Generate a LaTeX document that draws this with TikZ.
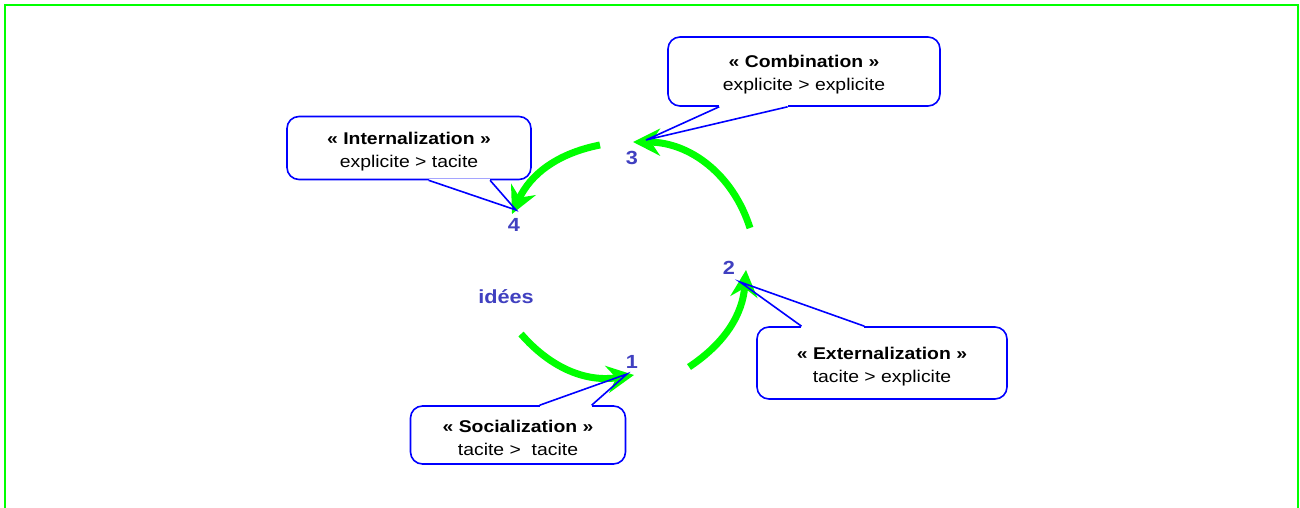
\documentclass[tikz,border=0pt]{standalone}
\usepackage{fontspec}
\setmainfont{Liberation Sans}[FakeStretch=1.14]
\usetikzlibrary{arrows.meta,calc}
\definecolor{frameg}{RGB}{0,255,0}
\definecolor{arcg}{RGB}{0,255,0}
\definecolor{callblue}{RGB}{0,0,255}
\definecolor{numcol}{RGB}{64,64,192}
\newcommand{\toppad}{\rule{0pt}{19pt}}
\begin{document}
\begin{tikzpicture}[x=1pt,y=1pt,
  callbox/.style={draw=callblue, line width=1.6pt, rounded corners=12pt, fill=white,
    align=center, inner sep=0pt, font=\fontsize{17}{23}\selectfont},
  tailline/.style={draw=callblue, line width=1.6pt, line join=miter},
  tailgap/.style={draw=white, line width=3.5pt},
  numlbl/.style={text=numcol, font=\fontsize{19}{22}\selectfont\bfseries, inner sep=0pt},
  cyclearrow/.style={draw=arcg, line width=7pt,
    -{Stealth[length=27pt,width=27pt,inset=9pt]}}
]
\useasboundingbox (0,0) rectangle (1300,508);
\begin{scope}
\clip (0,0) rectangle (1300,508);
\draw[frameg, line width=2.5pt] (5,-5) -- (5,503) -- (1298,503) -- (1298,-5);
\end{scope}

% arc end points
\coordinate (a1) at (521,174); \coordinate (b1) at (634,133);
\coordinate (a2) at (689,141); \coordinate (b2) at (746,238);
\coordinate (a3) at (750,280); \coordinate (b3) at (633,366);
\coordinate (a4) at (600,363); \coordinate (b4) at (512,294);

\draw[cyclearrow] (a1) to[bend right=29] (b1);
\draw[cyclearrow] (a2) to[bend right=26] (b2);
\draw[cyclearrow] (a3) to[bend right=36] (b3);
\draw[cyclearrow] (a4) to[bend right=27] (b4);

% labels
\node[numlbl] (n1) at (632,146) {1};
\node[numlbl] (n2) at (729,240) {2};
\node[numlbl] (n3) at (632,350) {3};
\node[numlbl] (n4) at (514,283) {4};
\node[numlbl] (ideas) at (506,211) {idées};

% callouts
\node[callbox, minimum width=272pt, minimum height=69pt] (comb) at (804,436.5)
  {\toppad\textbf{« Combination »}\\explicite > explicite};
\node[callbox, minimum width=244pt, minimum height=63pt] (intl) at (409,360)
  {\toppad\textbf{« Internalization »}\\explicite > tacite};
\node[callbox, minimum width=215pt, minimum height=58pt] (soc) at (518,73)
  {\toppad\textbf{« Socialization »}\\tacite >\ \ tacite};
\node[callbox, minimum width=250pt, minimum height=72pt] (ext) at (882,145)
  {\toppad\textbf{« Externalization »}\\tacite > explicite};

% tails
\coordinate (c1) at ($(comb.south west)!0.19!(comb.south east)$);
\coordinate (c2) at ($(comb.south west)!0.44!(comb.south east)$);
\coordinate (ct) at (646,368);
\coordinate (i1) at ($(intl.south west)!0.58!(intl.south east)$);
\coordinate (i2) at ($(intl.south west)!0.83!(intl.south east)$);
\coordinate (it) at (516,298);
\coordinate (s1) at ($(soc.north west)!0.60!(soc.north east)$);
\coordinate (s2) at ($(soc.north west)!0.84!(soc.north east)$);
\coordinate (st) at (627,134);
\coordinate (e1) at ($(ext.north west)!0.18!(ext.north east)$);
\coordinate (e2) at ($(ext.north west)!0.43!(ext.north east)$);
\coordinate (et) at (740,226);

\draw[tailgap] (c1) -- (c2);
\draw[tailline] (c1) -- (ct) -- (c2);
\draw[tailgap] (i1) -- (i2);
\draw[tailline] (i1) -- (it) -- (i2);
\draw[tailgap] (s1) -- (s2);
\draw[tailline] (s1) -- (st) -- (s2);
\draw[tailgap] (e1) -- (e2);
\draw[tailline] (e1) -- (et) -- (e2);
\end{tikzpicture}
\end{document}
